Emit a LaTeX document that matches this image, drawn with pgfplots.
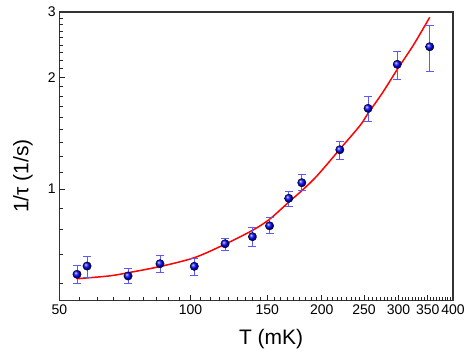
\documentclass[border=0pt]{standalone}
\usepackage{fontspec}
\setmainfont{Liberation Sans}
\usepackage{pgfplots}
\usepackage{pgfplotstable}
\pgfplotsset{compat=1.18}
\pgfplotstableread{
T v ep em
54.9 0.589 0.032 0.033
57.9 0.620 0.037 0.041
71.9 0.583 0.027 0.026
85.1 0.629 0.032 0.033
102 0.619 0.031 0.033
120 0.712 0.026 0.028
138.7 0.744 0.042 0.045
151.8 0.796 0.041 0.036
168 0.944 0.042 0.044
180 1.040 0.055 0.050
220 1.276 0.065 0.071
255.4 1.650 0.128 0.125
298 2.168 0.182 0.189
353.7 2.418 0.349 0.338
}\datatable
\pgfplotstableread{
T v
54.8 0.573
65 0.583
72 0.595
85 0.618
102 0.653
120 0.710
139 0.775
152 0.830
168 0.922
180 0.990
195 1.085
220 1.280
245 1.485
255 1.595
275 1.81
298 2.10
325 2.45
353.7 2.903
}\fittable
\begin{document}
\begin{tikzpicture}
\begin{axis}[
  at={(59.3pt,53.3pt)}, anchor=south west,
  scale only axis, width=393.7pt, height=288.7pt,
  xmode=log, ymode=log,
  xmin=50, xmax=400, ymin=0.5, ymax=3,
  xtick={50,100,150,200,250,300,350,400},
  xticklabels={50,100,150,200,250,300,350,400},
  ytick={1,2,3}, yticklabels={1,2,3},
  minor tick num=0,
  tick align=inside,
  xtick pos=left, ytick pos=left,
  major tick length=6pt,
  major tick style={black!85, line width=0.9pt},
  axis line style={line width=1.4pt, black!80},
  tick label style={font=\fontsize{14}{14}\selectfont},
  label style={font=\fontsize{21}{21}\selectfont},
  xlabel={T (mK)}, ylabel={1/τ (1/s)},
  xlabel style={at={(axis description cs:0.538,-0.1327)}, anchor=center},
  ylabel style={at={(axis description cs:-0.0922,0.432)}, anchor=center},
  clip=false,
]
\pgfplotsinvokeforeach{100,150,200,250,300,350}{
  \draw[black!85, line width=0.9pt] (axis cs:#1,0.5) -- (axis cs:#1,0.519);}
\pgfplotsinvokeforeach{55.56,61.11,66.67,72.22,77.78,83.33,88.89,94.44,105.56,111.11,116.67,122.22,127.78,133.33,138.89,144.44,155.56,161.11,166.67,172.22,177.78,183.33,188.89,194.44,205.56,211.11,216.67,222.22,227.78,233.33,238.89,244.44,255.56,261.11,266.67,272.22,277.78,283.33,288.89,294.44,305.56,311.11,316.67,322.22,327.78,333.33,338.89,344.44,355.56,361.11,366.67,372.22,377.78,383.33,388.89,394.44}{
  \draw[black!85, line width=0.8pt] (axis cs:#1,0.5) -- (axis cs:#1,0.511);}
\pgfplotsinvokeforeach{1,2}{
  \draw[black!85, line width=0.9pt] (axis cs:50,#1) -- (axis cs:51.61,#1);}
\pgfplotsinvokeforeach{0.5556,0.6667,0.7778,0.8889,1.1111,1.2222,1.3333,1.4444,1.5556,1.6667,1.7778,1.8889,2.1111,2.2222,2.3333,2.4444,2.5556,2.6667,2.7778,2.8889}{
  \draw[black!85, line width=0.8pt] (axis cs:50,#1) -- (axis cs:50.94,#1);}
\addplot[red, line width=1.5pt, smooth] table[x=T, y=v] {\fittable};
\addplot[color={rgb,255:red,70;green,70;blue,255}, mark=none, draw=none, forget plot,
  error bars/.cd, y dir=both, y explicit,
  error bar style={color={rgb,255:red,90;green,90;blue,255}, line width=0.7pt},
  error mark options={rotate=90, mark size=4pt, color={rgb,255:red,90;green,90;blue,255}, line width=0.7pt}]
  table[x=T, y=v, y error plus=ep, y error minus=em] {\datatable};
\addplot[only marks, mark=ball, mark size=4.2pt, mark options={ball color=blue}]
  table[x=T, y=v] {\datatable};
\end{axis}
\pgfresetboundingbox
\useasboundingbox (0,0) rectangle (469pt,354pt);
\end{tikzpicture}
\end{document}
